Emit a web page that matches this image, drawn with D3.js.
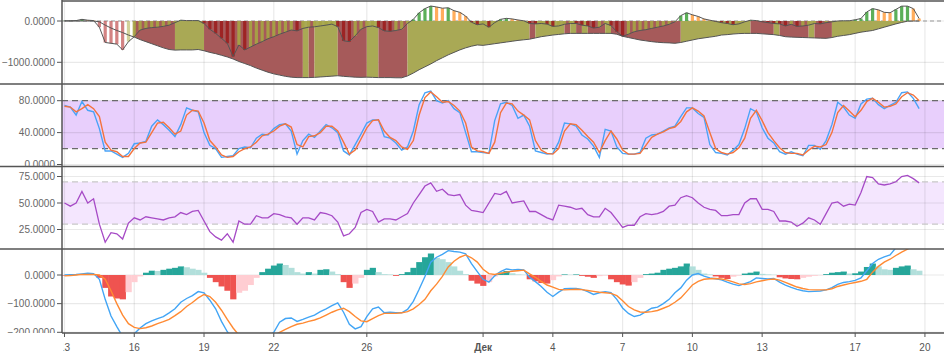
<!DOCTYPE html>
<html><head><meta charset="utf-8">
<script src="https://cdn.jsdelivr.net/npm/d3@7"></script>
<style>body{margin:0;background:#fff}svg{display:block;font-family:"Liberation Sans",Arial,sans-serif}</style>
</head><body><svg id="c" width="944" height="354"></svg>
<script>
// ---------- data ----------
const startDate = new Date(2017, 10, 13, 0, 0);   // first sample
const stepHours = 6;                              // sampling interval
const tickDates = ["2017-11-13","2017-11-16","2017-11-19","2017-11-22","2017-11-26","2017-12-01","2017-12-04","2017-12-07","2017-12-10","2017-12-13","2017-12-17","2017-12-20"];
const tickLabels = ["13","16","19","22","26","Дек","4","7","10","13","17","20"];

// top panel: flow bars + cumulative base area
const flow = [5,5,10,40,20,10,-150,-520,-540,-560,-700,-500,-380,-220,-180,-160,-150,-130,-100,-40,
20,10,10,10,-60,-200,-300,-420,-540,-860,-580,-700,-630,-560,-500,-430,-380,-320,-270,-218,
-240,-180,-150,-140,-120,-100,-75,-137,-480,-500,-360,-200,-137,-120,-160,-240,-250,-230,-200,-60,
40,200,300,363,340,310,320,250,210,120,-30,-90,
-70,-150,-40,40,64,50,25,5,-60,-70,-60,-75,-130,-120,-80,-60,-60,-100,-120,-170,
-150,-60,-110,-260,-370,-320,-260,-230,-210,-180,-150,-120,-80,-20,130,200,150,110,50,20,
-10,-40,-60,-90,-70,-20,20,10,-20,-40,-60,-70,-120,-80,-130,-120,-100,-60,-70,-40,
-20,0,5,5,30,60,220,300,270,210,200,280,360,360,300,60];
const base = [0,0,0,0,0,0,-20,-100,-170,-230,-280,-340,-390,-450,-500,-550,-600,-650,-690,-705,
-700,-700,-700,-690,-720,-760,-790,-830,-870,-920,-980,-1030,-1080,-1140,-1190,-1240,-1280,-1310,-1340,-1360,
-1370,-1370,-1370,-1365,-1355,-1345,-1335,-1325,-1340,-1350,-1360,-1365,-1360,-1365,-1370,-1370,-1370,-1375,-1375,-1330,
-1260,-1180,-1110,-1040,-960,-890,-820,-760,-700,-650,-610,-580,
-590,-570,-550,-530,-510,-490,-470,-455,-440,-410,-380,-360,-340,-325,-310,-300,-300,-300,-300,-300,
-300,-300,-300,-320,-370,-400,-430,-460,-480,-500,-515,-525,-530,-540,-520,-490,-460,-430,-410,-390,
-370,-340,-330,-315,-305,-300,-300,-300,-310,-320,-330,-350,-380,-390,-395,-400,-405,-410,-415,-420,
-400,-370,-350,-330,-300,-270,-250,-230,-190,-150,-110,-70,-35,-5,0,0];
// area colour runs: n = none, r = red, o = olive
const areaRuns = [["n",12],["r",7],["o",5],["r",17],["o",1],["r",1],["o",4],["r",5],["o",2],["r",5],
["o",21],["r",1],["o",5],["r",1],["o",1],["r",1],["o",1],["r",3],["o",1],["r",12],["o",12],["r",4],
["o",1],["r",5],["o",1],["r",3],["o",16]];

// stochastic
const stochK = [74,72,62,79,68,66,45,17,17,13,9,14,26,27,29,48,56,50,43,35,
50,71,68,66,40,24,20,9,10,11,20,22,21,33,38,37,45,50,51,42,
13,30,38,34,42,50,46,40,17,12,25,38,52,56,56,35,33,27,18,22,
42,75,90,92,80,77,80,70,65,40,16,16,
15,14,55,76,78,74,58,62,48,17,15,13,14,28,52,51,48,37,32,23,
9,44,42,22,14,13,13,15,33,37,38,42,46,48,60,71,71,64,59,25,
15,14,12,18,25,45,70,66,46,33,27,16,13,16,13,11,24,24,19,30,
50,78,72,62,58,76,82,83,75,70,74,78,90,91,83,70];
const stochD = [73,72,66,70,75,70,60,28,18,16,10,10,20,27,28,40,52,53,46,38,
42,62,68,67,52,30,22,12,9,10,16,20,22,28,36,38,42,48,51,47,
25,22,35,36,40,48,48,42,28,13,18,32,46,55,56,42,34,30,22,19,
30,62,84,91,85,78,79,74,67,52,22,17,
16,14,28,65,77,76,67,62,56,30,18,14,13,20,42,51,50,43,35,28,
15,30,42,32,18,13,13,14,24,34,38,41,45,47,54,66,71,67,61,40,
20,15,13,15,21,33,58,68,55,40,30,21,15,14,14,12,18,23,22,25,
40,65,74,67,60,68,79,83,78,72,73,76,85,90,87,80];

// RSI
const rsi = [50,47,50,61,50,54,30,13,22,21,16,31,36,34,37,36,35,34,36,37,
41,39,42,43,33,23,18,15,21,13,33,30,30,38,36,36,40,39,37,36,
30,36,36,34,41,40,38,32,19,21,27,41,44,42,32,35,35,34,37,40,
50,58,66,69,61,63,58,57,58,48,43,42,
41,50,59,58,61,50,51,52,42,42,39,36,34,48,47,46,44,45,39,37,
37,45,41,34,27,29,29,37,40,39,40,42,47,48,55,57,55,50,46,44,
43,38,38,39,39,50,54,54,44,44,42,33,33,32,28,31,36,34,30,40,
50,51,47,49,48,60,75,74,68,67,68,70,75,76,73,69];

// MACD
const macd = [0,1,2,4,6,5,-15,-85,-143,-180,-215,-230,-205,-185,-170,-160,-152,-145,-132,-118,
-95,-82,-72,-58,-62,-88,-118,-162,-198,-225,-245,-255,-258,-250,-235,-218,-200,-165,-152,-150,
-162,-155,-147,-140,-128,-118,-107,-97,-130,-172,-188,-180,-145,-118,-112,-132,-130,-132,-132,-120,
-92,-50,-5,45,62,72,85,82,80,74,40,12,
-15,-25,-3,12,21,18,19,18,-8,-23,-40,-60,-75,-60,-48,-47,-47,-50,-58,-68,
-62,-58,-62,-85,-115,-134,-145,-140,-128,-116,-112,-100,-85,-62,-45,-18,0,5,-4,-10,
-13,-17,-25,-32,-37,-30,-23,-10,-12,-14,-12,-25,-35,-43,-50,-55,-58,-57,-56,-52,
-44,-33,-26,-23,-19,-10,15,40,55,63,70,95,110,120,130,140];
const signal = [-3,-2,0,2,2,2,0,-15,-55,-100,-140,-170,-183,-187,-184,-178,-170,-163,-155,-142,
-128,-110,-96,-80,-68,-75,-95,-123,-155,-185,-210,-228,-238,-240,-235,-225,-212,-200,-190,-180,
-172,-168,-162,-157,-150,-140,-130,-122,-116,-128,-145,-160,-163,-152,-142,-134,-134,-134,-132,-128,
-118,-103,-85,-55,-32,-5,28,48,62,70,60,45,
20,5,2,6,10,13,15,17,4,-8,-22,-35,-42,-50,-52,-51,-50,-51,-54,-57,
-60,-62,-64,-72,-90,-110,-122,-129,-130,-128,-124,-116,-108,-95,-80,-58,-35,-22,-15,-13,
-12,-14,-18,-24,-31,-33,-30,-24,-20,-16,-14,-18,-26,-34,-42,-47,-51,-52,-52,-52,
-48,-40,-35,-30,-26,-22,-15,10,30,45,55,68,80,90,100,110];
const hist = [-2,-1,1,2,4,3,-10,-45,-75,-82,-85,-60,-25,-5,8,15,14,18,22,25,
30,27,22,18,8,-10,-25,-40,-55,-85,-62,-55,-35,-10,10,22,33,40,35,25,
10,5,10,5,18,20,12,3,-25,-45,-30,-10,18,25,10,3,2,-3,3,10,
25,45,62,75,60,55,45,30,15,3,-20,-30,
-38,-25,-5,8,14,6,2,1,-15,-22,-28,-30,-18,-5,2,1,2,-3,-6,-10,
-4,-2,-15,-25,-33,-37,-25,-10,3,5,8,18,22,25,30,40,30,18,5,2,
-5,-10,-14,-6,-2,5,8,12,4,2,1,-8,-12,-14,-15,-10,-6,-3,-1,3,
8,10,12,5,6,12,28,40,30,20,18,25,30,33,20,15];

// ---------- drawing ----------
const svg = d3.select("#c");
const W = 944, X0 = 62, X1 = 944, DAY = 864e5;
const times = stochK.map((_, i) => new Date(+startDate + i * stepHours * 3600e3));
const x = d3.scaleTime()
  .domain([new Date(+startDate - 0.1075 * DAY), new Date(+startDate + 37.82 * DAY)])
  .range([X0, X1]);
const step = x(times[1]) - x(times[0]);
const tDates = tickDates.map(s => { const p = s.split("-"); return new Date(+p[0], +p[1] - 1, +p[2]); });

const panels = [
  {top: 1, bottom: 84, y: d3.scaleLinear().domain([-1000, 0]).range([62.3, 21]), ticks: [0, -1000]},
  {top: 84, bottom: 166.5, y: d3.scaleLinear().domain([0, 80]).range([164.5, 100.7]), ticks: [0, 40, 80]},
  {top: 166.5, bottom: 249, y: d3.scaleLinear().domain([25, 75]).range([229.5, 176.5]), ticks: [25, 50, 75]},
  {top: 249, bottom: 333, y: d3.scaleLinear().domain([-200, 0]).range([332.3, 275]), ticks: [0, -100, -200]}
];
const defs = svg.append("defs");
panels.forEach((p, k) => {
  defs.append("clipPath").attr("id", "pc" + k).append("rect")
    .attr("x", X0).attr("y", p.top).attr("width", X1 - X0).attr("height", p.bottom - p.top);
  defs.append("clipPath").attr("id", "lc" + k).append("rect")
    .attr("x", 0).attr("y", p.top).attr("width", W).attr("height", p.bottom - p.top);
});
defs.append("clipPath").attr("id", "xc").append("rect")
  .attr("x", X0 + 1.5).attr("y", 333).attr("width", W).attr("height", 21);

// bands
const [P1, P2, P3, P4] = panels;
svg.append("rect").attr("x", X0).attr("width", X1 - X0)
  .attr("y", P2.y(80)).attr("height", P2.y(20) - P2.y(80)).attr("fill", "#e8cffc");
svg.append("rect").attr("x", X0).attr("width", X1 - X0)
  .attr("y", P3.y(70)).attr("height", P3.y(30) - P3.y(70)).attr("fill", "#f4e6fe");

// grids
const grid = svg.append("g").attr("stroke", "rgba(0,0,0,0.085)").attr("stroke-width", 1.2);
tDates.forEach(d => grid.append("line").attr("x1", x(d)).attr("x2", x(d)).attr("y1", 1).attr("y2", 333));
panels.forEach(p => p.ticks.forEach(t =>
  grid.append("line").attr("x1", X0).attr("x2", X1).attr("y1", p.y(t)).attr("y2", p.y(t))));

// dashed band lines
[[P2, 80, "#6b6b6b"], [P2, 20, "#6b6b6b"], [P3, 70, "#c8c8c8"], [P3, 30, "#c8c8c8"]].forEach(([p, v, c]) =>
  svg.append("line").attr("x1", X0).attr("x2", X1).attr("y1", p.y(v)).attr("y2", p.y(v))
    .attr("stroke", c).attr("stroke-width", 1.2).attr("stroke-dasharray", "6,4"));

// ----- panel 1 -----
const g1 = svg.append("g").attr("clip-path", "url(#pc0)");
g1.append("line").attr("x1", X0).attr("x2", X1).attr("y1", P1.y(0)).attr("y2", P1.y(0))
  .attr("stroke", "#999").attr("stroke-dasharray", "4,3");
const areaState = [];
areaRuns.forEach(([s, n]) => { for (let j = 0; j < n; j++) areaState.push(s); });
const areaColor = {r: "#a65a5a", o: "#a9a955"};
let runStart = 0;
for (let i = 1; i <= base.length; i++) {
  if (i === base.length || areaState[i] !== areaState[runStart]) {
    const s = areaState[runStart];
    if (s !== "n") {
      const idx = d3.range(runStart, Math.min(i + 1, base.length));
      g1.append("path")
        .attr("d", d3.area().x(j => x(times[j])).y0(P1.y(0)).y1(j => P1.y(base[j]))(idx))
        .attr("fill", areaColor[s]);
    }
    runStart = i;
  }
}
flow.forEach((v, i) => {
  const prev = i > 0 ? flow[i - 1] : v;
  const pale = areaState[i] === "n" && v < 0;
  let c;
  if (v < 0) c = v <= prev ? (pale ? "#c45a5a" : "#9c2020") : (pale ? "#c2c178" : "#a6a444");
  else c = v >= prev ? "#4ea84a" : "#ffa64f";
  const y0 = P1.y(0), y1 = P1.y(v);
  g1.append("rect").attr("x", x(times[i]) - 1.6).attr("width", 3.2)
    .attr("y", Math.min(y0, y1)).attr("height", Math.abs(y1 - y0)).attr("fill", c)
    .attr("opacity", pale ? 0.75 : 0.92);
});
g1.append("path").attr("d", d3.line().x((d, i) => x(times[i])).y(d => P1.y(d))(base))
  .attr("fill", "none").attr("stroke", "#555").attr("stroke-width", 1);
g1.append("path").attr("d", d3.line().x((d, i) => x(times[i])).y(d => P1.y(d))(flow))
  .attr("fill", "none").attr("stroke", "#555").attr("stroke-width", 1);

// ----- panel 2 -----
const g2 = svg.append("g").attr("clip-path", "url(#pc1)");
const ln2 = d3.line().x((d, i) => x(times[i])).y(d => P2.y(d));
g2.append("path").attr("d", ln2(stochK)).attr("fill", "none").attr("stroke", "#4aa3f7").attr("stroke-width", 1.4);
g2.append("path").attr("d", ln2(stochD)).attr("fill", "none").attr("stroke", "#f4733d").attr("stroke-width", 1.4);

// ----- panel 3 -----
const g3 = svg.append("g").attr("clip-path", "url(#pc2)");
g3.append("path").attr("d", d3.line().x((d, i) => x(times[i])).y(d => P3.y(d))(rsi))
  .attr("fill", "none").attr("stroke", "#a64ac6").attr("stroke-width", 1.3);

// ----- panel 4 -----
const g4 = svg.append("g").attr("clip-path", "url(#pc3)");
hist.forEach((v, i) => {
  const prev = i > 0 ? hist[i - 1] : v;
  let c;
  if (v >= 0) c = v >= prev ? "#26a69a" : "#b2dfdb";
  else c = v <= prev ? "#ef5350" : "#ffcdd2";
  const y0 = P4.y(0), y1 = P4.y(v);
  g4.append("rect").attr("x", x(times[i]) - step / 2).attr("width", step + 0.4)
    .attr("y", Math.min(y0, y1)).attr("height", Math.abs(y1 - y0)).attr("fill", c);
});
const ln4 = d3.line().x((d, i) => x(times[i])).y(d => P4.y(d));
g4.append("path").attr("d", ln4(macd)).attr("fill", "none").attr("stroke", "#42a5f5").attr("stroke-width", 1.4);
g4.append("path").attr("d", ln4(signal)).attr("fill", "none").attr("stroke", "#ff8a33").attr("stroke-width", 1.4);

// ----- frame / separators -----
const fr = svg.append("g").attr("stroke", "#555").attr("stroke-width", 1.5);
fr.append("line").attr("x1", X0).attr("x2", X1).attr("y1", 1).attr("y2", 1);
[84, 166.5, 249].forEach(y => fr.append("line").attr("x1", 0).attr("x2", W).attr("y1", y).attr("y2", y));
fr.append("line").attr("x1", X0).attr("x2", X1).attr("y1", 333).attr("y2", 333);
fr.append("line").attr("x1", X0).attr("x2", X0).attr("y1", 0).attr("y2", 333);

// y labels
const fmt = d3.format(".4f");
panels.forEach((p, k) => {
  const gl = svg.append("g").attr("clip-path", "url(#lc" + k + ")");
  p.ticks.forEach(t => {
    gl.append("line").attr("x1", 57).attr("x2", X0).attr("y1", p.y(t)).attr("y2", p.y(t))
      .attr("stroke", "#555").attr("stroke-width", 1);
    gl.append("text").attr("x", 55).attr("y", p.y(t)).attr("dy", "0.35em")
      .attr("text-anchor", "end").attr("font-size", 10).attr("fill", "#666").text(fmt(t));
  });
});

// x axis
const gx = svg.append("g").attr("clip-path", "url(#xc)");
tDates.forEach((d, k) => {
  svg.append("line").attr("x1", x(d)).attr("x2", x(d)).attr("y1", 333).attr("y2", 337)
    .attr("stroke", "#555").attr("stroke-width", 1);
  gx.append("text").attr("x", x(d)).attr("y", 347).attr("dy", "0.35em").attr("text-anchor", "middle")
    .attr("font-size", 10).attr("fill", "#555")
    .attr("font-weight", tickLabels[k] === "Дек" ? "bold" : "normal").text(tickLabels[k]);
});
</script></body></html>
